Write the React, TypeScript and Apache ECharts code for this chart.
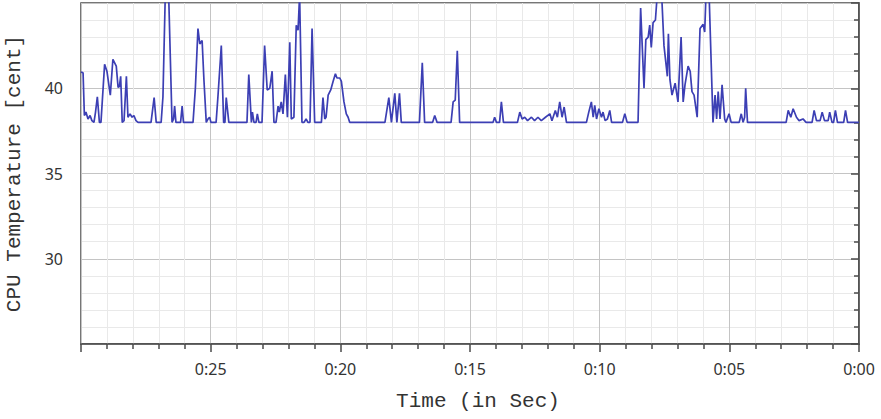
import React, { useEffect, useRef } from "react";
import * as echarts from "echarts";

// Time remaining (seconds) for each sample, counted down to 0:00
const timeSec: number[] = [
  30.0, 29.92, 29.87, 29.81, 29.73, 29.65, 29.58, 29.5, 29.44, 29.37,
  29.29, 29.23, 29.09, 29.0, 28.87, 28.77, 28.64, 28.57, 28.52, 28.47,
  28.41, 28.34, 28.25, 28.19, 28.11, 28.03, 27.96, 27.88, 27.8, 27.3,
  27.18, 27.1, 26.91, 26.84, 26.75, 26.62, 26.49, 26.43, 26.39, 26.34,
  26.16, 26.1, 26.05, 25.68, 25.59, 25.49, 25.42, 25.33, 25.26, 25.17,
  25.1, 25.04, 24.99, 24.79, 24.72, 24.59, 24.5, 24.45, 24.4, 24.3,
  23.6, 23.53, 23.43, 23.39, 23.33, 23.25, 23.2, 23.14, 23.02, 22.92,
  22.82, 22.72, 22.63, 22.56, 22.48, 22.4, 22.35, 22.28, 22.21, 22.12,
  22.04, 21.95, 21.89, 21.79, 21.7, 21.63, 21.57, 21.48, 21.4, 21.32,
  21.25, 21.17, 21.09, 20.99, 20.73, 20.67, 20.6, 20.55, 20.47, 20.37,
  20.28, 20.19, 20.13, 20.02, 19.96, 19.86, 19.77, 19.7, 19.64, 18.28,
  18.13, 18.03, 17.9, 17.82, 17.72, 17.65, 16.95, 16.84, 16.75, 16.44,
  16.36, 16.27, 15.73, 15.65, 15.57, 15.49, 15.4, 14.11, 14.05, 13.98,
  13.86, 13.79, 13.71, 13.17, 13.08, 12.99, 12.89, 12.78, 12.63, 12.51,
  12.38, 12.25, 12.09, 11.92, 11.84, 11.71, 11.63, 11.54, 11.45, 11.37,
  11.28, 10.51, 10.42, 10.32, 10.25, 10.19, 10.12, 10.03, 9.93, 9.87,
  9.79, 9.7, 9.61, 9.54, 9.12, 9.03, 8.94, 8.52, 8.42, 8.29,
  8.22, 8.13, 8.07, 8.01, 7.94, 7.85, 7.78, 7.61, 7.52, 7.39,
  7.35, 7.29, 7.21, 7.09, 6.98, 6.86, 6.78, 6.71, 6.59, 6.51,
  6.44, 6.36, 6.24, 6.13, 6.01, 5.95, 5.9, 5.78, 5.63, 5.55,
  5.49, 5.43, 5.36, 5.28, 5.18, 5.13, 5.01, 4.93, 4.62, 4.54,
  4.47, 4.41, 4.37, 4.3, 2.81, 2.73, 2.63, 2.54, 2.41, 2.31,
  2.16, 2.04, 1.81, 1.73, 1.64, 1.5, 1.42, 1.33, 1.19, 1.13,
  1.04, 0.98, 0.91, 0.83, 0.59, 0.52, 0.44, 0.0,
];

// CPU temperature readings
const cpuTemp: number[] = [
  40.95, 40.9, 38.4, 38.6, 38.2, 38.4, 38.1, 38, 38.6, 39.5,
  38, 38, 41.4, 41, 39.6, 41.7, 41.3, 40.05, 40.1, 40.7,
  38, 38.1, 40.7, 38.3, 38.5, 38.3, 38.4, 38.1, 38, 38,
  39.45, 38, 38, 39.5, 45.5, 45.5, 38, 38.2, 38.95, 38,
  38, 38.95, 38, 38, 40, 43.5, 42.6, 42.8, 40.5, 38,
  38.2, 38.3, 38, 38, 39.5, 42.5, 38, 38, 39.45, 38,
  38, 40.8, 38, 38.6, 38, 38, 38.5, 38, 38, 42.5,
  39.9, 40, 41, 38, 38, 38.95, 38.6, 39.2, 38.5, 40.8,
  38.3, 42.7, 38.2, 38.3, 43.7, 43.4, 45.5, 38, 38, 38.2,
  38, 38, 43.5, 38, 38, 39.45, 38.2, 38.3, 39.6, 39.9,
  40.4, 40.85, 40.6, 40.6, 40.4, 39.2, 38.5, 38.3, 38, 38,
  39.45, 38, 39.7, 38, 39.7, 38, 38, 41.5, 38, 38,
  38.4, 38, 38, 39.2, 39.3, 42.2, 38, 38, 38.3, 38,
  38, 39.2, 38, 38, 38.6, 38.2, 38.3, 38.1, 38.3, 38.1,
  38.3, 38.1, 38.3, 38.5, 38.1, 38.7, 38.3, 39.2, 38.3, 38.9,
  38, 38, 38.6, 39.2, 38.3, 39, 38.2, 38.8, 38.3, 38.6,
  38.1, 38.2, 38.7, 38, 38, 38.5, 38, 38, 44.7, 40,
  42.85, 43, 43.7, 42.4, 43.85, 44, 45.5, 45.5, 42.5, 40.7,
  43.2, 40.5, 39.6, 40.3, 39.2, 43, 39.2, 40.2, 41.3, 41,
  39.8, 39.6, 38.3, 43.5, 43.75, 43.3, 45.5, 45.5, 38, 39.6,
  38.2, 39.8, 38.2, 40.2, 38.2, 38, 38.5, 38, 38, 38.5,
  38, 38.3, 40, 38, 38, 38.7, 38.3, 38.8, 38.3, 38.1,
  38.2, 38, 38, 38.7, 38.1, 38.1, 38.6, 38.1, 38.1, 38.6,
  38, 38, 38.7, 38, 38, 38.7, 38, 38,
];

const xLabelHidden: number[] = [30];
const yLabelHidden: number[] = [25, 45];

export default function App() {
  const ref = useRef<HTMLDivElement>(null);

  useEffect(() => {
    if (!ref.current) return;
    const chart = echarts.init(ref.current, null, { renderer: "svg" });
    const data = timeSec.map((t, i) => [t, cpuTemp[i]]);
    const axisColor = "#4a4a4a";
    chart.setOption({
      animation: false,
      backgroundColor: "#ffffff",
      grid: {
        left: 81,
        right: 22,
        top: 3,
        bottom: 75,
        outerBoundsMode: "none",
        containLabel: false,
        show: true,
        borderColor: axisColor,
        borderWidth: 1.5,
        backgroundColor: "transparent",
      },
      xAxis: {
        type: "value",
        inverse: true,
        min: 0,
        max: 30,
        interval: 5,
        name: "Time (in Sec)",
        nameLocation: "middle",
        nameGap: 47,
        nameTextStyle: {
          fontFamily: "Liberation Mono",
          fontSize: 21,
          color: "#333",
          padding: [0, 0, 0, 16],
        },
        axisLine: { show: true, lineStyle: { color: axisColor, width: 1.5 } },
        axisTick: { show: true, inside: false, length: 8, lineStyle: { color: axisColor, width: 1.5 } },
        minorTick: { show: true, splitNumber: 5, length: 5, lineStyle: { color: axisColor, width: 1.5 } },
        splitLine: { show: true, lineStyle: { color: "#c4c4c4", width: 1 } },
        minorSplitLine: { show: true, lineStyle: { color: "#e9e9e9", width: 1 } },
        axisLabel: {
          margin: 17,
          fontFamily: "Noto Sans",
          fontSize: 16,
          color: "#333",
          formatter: (v: number) =>
            xLabelHidden.includes(v) ? "" : "0:" + String(v).padStart(2, "0"),
        },
      },
      yAxis: {
        type: "value",
        min: 25,
        max: 45,
        interval: 5,
        name: "CPU Temperature [cent]",
        nameLocation: "middle",
        nameGap: 56,
        nameTextStyle: {
          fontFamily: "Liberation Mono",
          fontSize: 21,
          color: "#333",
        },
        axisLine: { show: true, lineStyle: { color: axisColor, width: 1.5 } },
        axisTick: { show: true, inside: false, length: 8, lineStyle: { color: axisColor, width: 1.5 } },
        minorTick: { show: true, splitNumber: 5, length: 5, lineStyle: { color: axisColor, width: 1.5 } },
        splitLine: { show: true, lineStyle: { color: "#c4c4c4", width: 1 } },
        minorSplitLine: { show: true, lineStyle: { color: "#e9e9e9", width: 1 } },
        axisLabel: {
          margin: 18,
          fontFamily: "Noto Sans",
          fontSize: 16,
          color: "#333",
          formatter: (v: number) => (yLabelHidden.includes(v) ? "" : String(v)),
        },
      },
      series: [
        {
          type: "line",
          data,
          showSymbol: false,
          symbol: "none",
          clip: true,
          lineStyle: { color: "#3c3fb4", width: 1.7 },
        },
      ],
    });
    return () => chart.dispose();
  }, []);

  return (
    <div
      ref={ref}
      style={{ position: "fixed", left: 0, top: 0, width: 881, height: 419 }}
    />
  );
}
